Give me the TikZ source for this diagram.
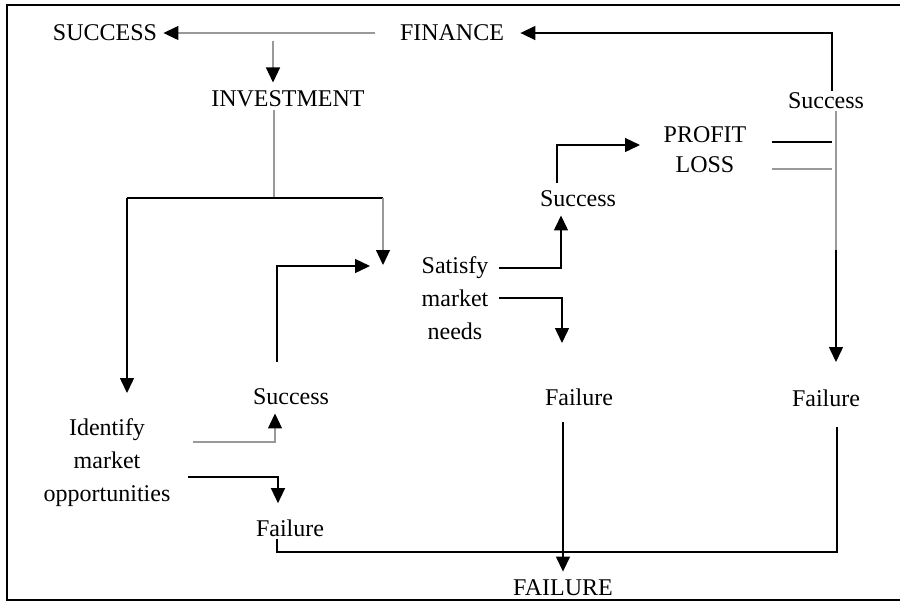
\documentclass[tikz,border=0pt]{standalone}
\usepackage{fontspec}
\setmainfont{Liberation Serif}
\usetikzlibrary{arrows.meta, positioning}

\begin{document}
\begin{tikzpicture}[x=0.5pt, y=-0.5pt,
    lbl/.style={font=\fontsize{12}{16.5}\selectfont, inner sep=1pt, align=center},
    flow/.style={line width=0.7pt},
    faint/.style={line width=0.6pt, black!40},
    arr/.style={-{Triangle[width=7pt, length=7.5pt, color=black]}}]
    \useasboundingbox (0,0) rectangle (900,602);

    % Frame
    \draw[line width=0.8pt] (900,5) -- (7,5) -- (7,600) -- (900,600);

    % Labels
    \node[lbl] (success) at (105,33) {SUCCESS};
    \node[lbl] (finance) at (452,33) {FINANCE};
    \node[lbl] (invest) at (288,99) {INVESTMENT};
    \node[lbl] (succR) at (826,101) {Success};
    \node[lbl] (profit) at (705,135) {PROFIT};
    \node[lbl] (loss) at (705,165) {LOSS};
    \node[lbl] (succM) at (578,199) {Success};
    \node[lbl] (satisfy) at (455,268) {Satisfy};
    \node[lbl] (market) at (455,298) {market};
    \node[lbl] (needs) at (455,331) {needs};
    \node[lbl] (succL) at (291,397) {Success};
    \node[lbl] (failM) at (579,397) {Failure};
    \node[lbl] (failR) at (826,398) {Failure};
    \node[lbl] (identify) at (107,463) {Identify\\market\\opportunities};
    \node[lbl] (failL) at (290,528) {Failure};
    \node[lbl] (bigFail) at (563,588) {FAILURE};

    % Points where the lines bend
    \coordinate (finL) at (375,33);
    \coordinate (topR) at (832,33);
    \coordinate (invTop) at (273,33);
    \coordinate (split) at (274,198);
    \coordinate (splitL) at (127,198);
    \coordinate (splitR) at (383,198);
    \coordinate (idIn) at (127,393);
    \coordinate (satIn) at (383,265);
    \coordinate (sL0) at (277,362);
    \coordinate (sLturn) at (277,266);
    \coordinate (sLend) at (370,266);
    \coordinate (satS) at (561,268);
    \coordinate (satF) at (562,298);
    \coordinate (satFend) at (562,343);
    \coordinate (smTurn) at (557,145);
    \coordinate (profIn) at (640,145);
    \coordinate (pL) at (772,142);
    \coordinate (pR) at (832,142);
    \coordinate (lL) at (772,169);
    \coordinate (lR) at (832,169);
    \coordinate (rTop) at (836,115);
    \coordinate (rMid) at (836,250);
    \coordinate (rEnd) at (836,362);
    \coordinate (idS) at (193,442);
    \coordinate (idSt) at (275,442);
    \coordinate (idF) at (188,477);
    \coordinate (idFt) at (278,477);
    \coordinate (fR) at (837,552);
    \coordinate (fL) at (277,552);

    % Finance and success at the top
    \draw[faint, arr, shorten >=2pt] (finL) -- (success.east);
    \draw[flow, arr, shorten >=7pt] (succR.north -| topR) -- (topR) -- (finance.east);
    \draw[faint, arr, shorten <=4pt, shorten >=3pt] (invTop) -- (invest.north -| invTop);

    % Investment splits
    \draw[faint] (invest.south -| split) -- (split);
    \draw[flow] (splitL) -- (splitR);
    \draw[flow, arr] (splitL) -- (idIn);
    \draw[faint, arr] (splitR) -- (satIn);

    % Identify market opportunities
    \draw[faint, arr, shorten >=3pt] (idS) -- (idSt) -- (succL.south -| idSt);
    \draw[flow, arr, shorten >=7pt] (idF) -- (idFt) -- (failL.north -| idFt);
    \draw[flow, arr] (sL0) -- (sLturn) -- (sLend);

    % Satisfy market needs
    \draw[flow, arr, shorten <=4pt, shorten >=3pt] (satisfy.east) -- (satS) -- (succM.south -| satS);
    \draw[flow, arr, shorten <=4pt] (market.east) -- (satF) -- (satFend);
    \draw[flow, arr, shorten <=3pt] (succM.north -| smTurn) -- (smTurn) -- (profIn);

    % Profit or loss
    \draw[flow] (pL) -- (pR);
    \draw[faint] (lL) -- (lR);
    \draw[faint] (succR.south -| rTop) -- (rMid);
    \draw[flow, arr] (rMid) -- (rEnd);

    % Failures
    \draw[flow, shorten <=9pt] (failR.south -| fR) -- (fR) -- (fL) -- (failL.south -| fL);
    \draw[flow, arr, shorten <=7pt, shorten >=3pt] (failM.south -| bigFail) -- (bigFail.north);
\end{tikzpicture}
\end{document}
